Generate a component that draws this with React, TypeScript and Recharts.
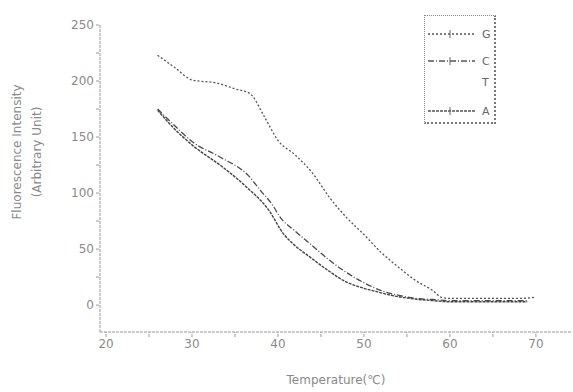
import React from "react";
import { LineChart, Line, XAxis, YAxis } from "recharts";

// Series G (top curve)
const gTemps = [26, 28, 30, 33, 35, 36.7, 38.5, 40, 42, 44, 46, 48, 50, 52, 54, 56, 58, 59, 60, 62, 64, 66, 68, 70];
const gValues = [223, 212, 201, 198, 193, 189, 167, 147, 134, 118, 96, 78, 63, 47, 34, 22, 13, 7, 6, 6, 6, 6, 6, 7];

// Series C (upper of the lower pair)
const cTemps = [26, 28, 30, 33.3, 36.5, 38, 39.4, 40.2, 42, 43.7, 46, 47.6, 50, 52, 54.5, 56, 58, 60, 62, 64, 66, 68, 69];
const cValues = [175, 160, 146, 132, 116, 102, 89, 79, 66, 55, 40, 31, 20, 13, 8, 6, 5, 4, 4, 4, 4, 4, 4];

// Series A (lower of the lower pair)
const aTemps = [26, 28, 30, 33.6, 36.4, 39, 40.6, 42, 43.7, 46, 47.6, 50, 51.5, 53, 55.3, 58, 60, 62, 64, 66, 68, 69];
const aValues = [174, 157, 143, 123, 105, 84, 64, 53, 43, 30, 22, 15, 12, 9, 6, 4, 3, 3, 3, 3, 3, 3];

const xTicks = [20, 25, 30, 35, 40, 45, 50, 55, 60, 65, 70];
const yTicks = [0, 25, 50, 75, 100, 125, 150, 175, 200, 225, 250];

const legendLabels = ["G", "C", "T", "A"];

const gDash = "2 2";
const cDash = "6 2 1 2";
const aDash = "3 1";
const legendDash = [gDash, cDash, "", aDash];

const toData = (t: number[], v: number[]) => t.map((x, i) => ({ t: x, y: v[i] }));
const gData = toData(gTemps, gValues);
const cData = toData(cTemps, cValues);
const aData = toData(aTemps, aValues);

const tickStyle = { fontSize: 12, fill: "#8a8a8a", fontFamily: "DejaVu Sans" };

const LegendBox = () => (
  <div
    style={{
      position: "absolute",
      left: 424,
      top: 15,
      width: 72,
      height: 109,
      border: "1px dotted #888",
      borderRight: "2px dotted #777",
      borderBottom: "2px dotted #777",
      background: "#fff",
      boxSizing: "border-box",
    }}
  >
    <svg width={72} height={109}>
      {legendLabels.map((lab, i) => {
        const y = [18, 45, 66, 95][i];
        return (
          <g key={lab}>
            {legendDash[i] !== "" && (
              <line x1={3} x2={50} y1={y} y2={y} stroke="#555" strokeWidth={1.3} strokeDasharray={legendDash[i]} />
            )}
            {legendDash[i] !== "" && (
              <line x1={25} x2={25} y1={y - 4} y2={y + 4} stroke="#666" strokeWidth={1} />
            )}
            <text x={57} y={y + 4} fontSize={11} fill="#666" fontFamily="DejaVu Sans">
              {lab}
            </text>
          </g>
        );
      })}
    </svg>
  </div>
);

const YTitle = () => (
  <g>
    <text
      transform="translate(21,152) rotate(-90)"
      textAnchor="middle"
      fontSize={12}
      fill="#8a8a8a"
      fontFamily="DejaVu Sans"
    >
      Fluorescence Intensity
    </text>
    <text
      transform="translate(41,152) rotate(-90)"
      textAnchor="middle"
      fontSize={12}
      fill="#8a8a8a"
      fontFamily="DejaVu Sans"
    >
      (Arbitrary Unit)
    </text>
  </g>
);

export default function App() {
  return (
    <div style={{ position: "absolute", left: 0, top: 0, width: 573, height: 392, background: "#fff" }}>
      <LineChart width={573} height={392} margin={{ top: 25, right: 1, bottom: 0, left: 0 }}>
        <XAxis
          type="number"
          dataKey="t"
          domain={[19.3, 74.2]}
          ticks={xTicks}
          allowDataOverflow
          tick={tickStyle}
          tickFormatter={(v: number) => (v % 10 === 0 ? String(v) : "")}
          tickSize={5}
          stroke="#999"
          strokeDasharray="3 1"
          height={60}
          label={{ value: "Temperature(\u2103)", position: "insideBottom", offset: 8, style: tickStyle }}
        />
        <YAxis
          type="number"
          domain={[-24, 250]}
          ticks={yTicks}
          allowDataOverflow
          width={100}
          tick={tickStyle}
          tickFormatter={(v: number) => (v % 50 === 0 ? String(v) : "")}
          tickSize={4}
          stroke="#999"
          strokeDasharray="3 1"
          label={{ content: () => <YTitle /> }}
        />
        <Line data={gData} dataKey="y" type="monotone" stroke="#555" strokeWidth={1.3} strokeDasharray={gDash} dot={false} isAnimationActive={false} />
        <Line data={cData} dataKey="y" type="monotone" stroke="#4a4a4a" strokeWidth={1.3} strokeDasharray={cDash} dot={false} isAnimationActive={false} />
        <Line data={aData} dataKey="y" type="monotone" stroke="#444" strokeWidth={1.4} strokeDasharray={aDash} dot={false} isAnimationActive={false} />
      </LineChart>
      <LegendBox />
    </div>
  );
}
